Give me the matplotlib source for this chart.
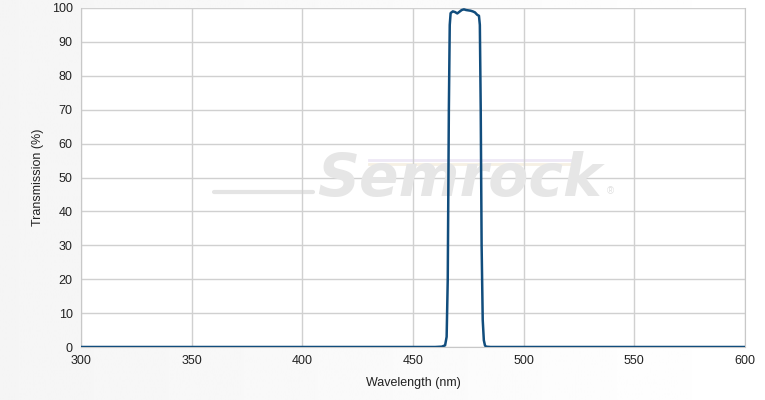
import numpy as np
import matplotlib
matplotlib.use("Agg")
import matplotlib.pyplot as plt

# Spektrum transmisji filtra
wavelength = [300, 460, 463, 464.5, 465.2, 465.7, 466.2, 466.6, 467.0, 468, 469, 470,
              471, 472, 473, 474, 475, 476, 477, 478, 479, 479.8, 480.2, 480.6,
              481.0, 481.5, 482, 482.5, 483, 485, 600]
transmission = [0, 0, 0.1, 0.5, 3, 20, 70, 95, 98.5, 99.0, 98.8, 98.4,
                98.9, 99.4, 99.6, 99.4, 99.3, 99.2, 99.0, 98.7, 98.0, 97.7, 95, 70,
                30, 8, 2, 0.5, 0.1, 0, 0]

x_ticks = [300, 350, 400, 450, 500, 550, 600]
y_ticks = [0, 10, 20, 30, 40, 50, 60, 70, 80, 90, 100]

plt.rcParams['font.family'] = ['Liberation Sans', 'DejaVu Sans']

fig = plt.figure(figsize=(7.65, 4), dpi=100)

# tło z gradientem
bg = fig.add_axes([0, 0, 1, 1], zorder=-10)
grad = np.linspace(0.96, 1.0, 256).reshape(1, -1)
bg.imshow(grad, aspect='auto', cmap='gray', vmin=0, vmax=1, extent=[0, 1, 0, 1])
bg.axis('off')

ax = fig.add_axes([81 / 765, 1 - 347 / 400, 664 / 765, 339 / 400])
ax.set_facecolor('white')

# znak wodny
ax.plot([360, 405], [45.7, 45.7], color='#e4e4e4', lw=3, zorder=0.5, solid_capstyle='round')
ax.plot([430, 522], [55.2, 55.2], color='#eee8f6', lw=2, zorder=0.5)
ax.plot([430, 522], [54.0, 54.0], color='#f6f0e4', lw=2, zorder=0.5)
ax.text(471, 49.5, 'Semrock', fontsize=42, fontstyle='italic', fontweight='bold',
        color='#e6e6e6', ha='center', va='center', zorder=0.6,
        family=['DejaVu Sans'])
ax.text(539, 46, '®', fontsize=7, color='#e0e0e0', ha='center', va='center', zorder=0.6)

ax.plot(wavelength, transmission, color='#114d7d', lw=1.8, zorder=3)

ax.set_xlim(300, 600)
ax.set_ylim(0, 100)
ax.set_xticks(x_ticks)
ax.set_yticks(y_ticks)
ax.grid(True, color='#d0d0d0', lw=1)
ax.set_axisbelow(True)
for s in ax.spines.values():
    s.set_color('#c8c8c8')
ax.spines['top'].set_visible(False)
ax.tick_params(length=0, labelsize=9, colors='#222222', pad=6)
ax.set_xlabel('Wavelength (nm)', fontsize=9, color='#222222', labelpad=7)
ax.set_ylabel('Transmission (%)', fontsize=9, color='#222222', labelpad=5.5)

fig.savefig('out.png', dpi=100)
